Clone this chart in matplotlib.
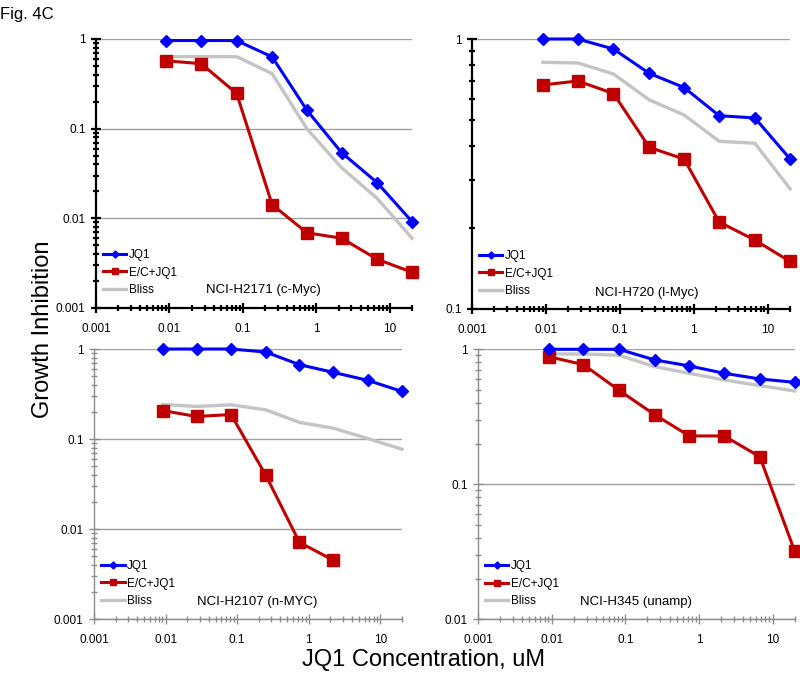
#!/usr/bin/python
# -*- coding: utf-8 -*-

import numpy as np
import matplotlib
matplotlib.use('Agg')
import matplotlib.pyplot as plt
import matplotlib.ticker as ticker

plt.rcParams['font.family'] = ['Liberation Sans', 'DejaVu Sans']

# JQ1 concentrations (uM), 3-fold dilution series
conc = [0.0091, 0.027, 0.082, 0.25, 0.74, 2.2, 6.7, 20]

# NCI-H2171 (c-Myc)
h2171_jq1 = [0.96, 0.96, 0.96, 0.63, 0.161, 0.054, 0.025, 0.0092]
h2171_ec = [0.57, 0.53, 0.247, 0.0142, 0.0069, 0.006, 0.0035, 0.0025]
h2171_bliss = [0.635, 0.635, 0.635, 0.41, 0.1, 0.0366, 0.0167, 0.006]

# NCI-H720 (l-Myc)
h720_jq1 = [1.0, 1.0, 0.918, 0.746, 0.661, 0.52, 0.51, 0.36]
h720_ec = [0.676, 0.699, 0.628, 0.397, 0.359, 0.21, 0.18, 0.15]
h720_bliss = [0.82, 0.815, 0.742, 0.595, 0.523, 0.418, 0.411, 0.279]

# NCI-H2107 (n-MYC) - combination only measured up to 2.2 uM
h2107_jq1 = [1.0, 1.0, 1.0, 0.926, 0.67, 0.55, 0.448, 0.338]
h2107_ec = [0.207, 0.178, 0.187, 0.0397, 0.0071, 0.0045]
h2107_bliss = [0.242, 0.23, 0.24, 0.211, 0.153, 0.132, 0.101, 0.077]

# NCI-H345 (unamp)
h345_jq1 = [1.0, 1.0, 1.0, 0.834, 0.753, 0.664, 0.603, 0.569]
h345_ec = [0.882, 0.77, 0.497, 0.328, 0.228, 0.228, 0.16, 0.0318]
h345_bliss = [0.923, 0.923, 0.903, 0.744, 0.664, 0.593, 0.538, 0.491]

blue = '#0000FF'
red = '#C00000'
grey = '#C4C4C4'


def draw_panel(ax, jq1, ec, bliss, name, ylim, yticks, heavy, tx, ty):
    gb, = ax.plot(conc[:len(bliss)], bliss, color=grey, lw=2.4, zorder=2, clip_on=False)
    rb, = ax.plot(conc[:len(ec)], ec, color=red, lw=2.2, marker='s', ms=8,
                  zorder=3, clip_on=False)
    bb, = ax.plot(conc[:len(jq1)], jq1, color=blue, lw=2.2, marker='D', ms=6.5,
                  zorder=4, clip_on=False)

    ax.set_xscale('log')
    ax.set_yscale('log')
    ax.set_xlim(0.001, 20)
    ax.set_ylim(*ylim)

    ax.xaxis.set_major_locator(ticker.FixedLocator([0.001, 0.01, 0.1, 1, 10]))
    ax.xaxis.set_major_formatter(ticker.FixedFormatter(['0.001', '0.01', '0.1', '1', '10']))
    ax.xaxis.set_minor_locator(ticker.LogLocator(base=10, subs=np.arange(2, 10), numticks=20))
    ax.xaxis.set_minor_formatter(ticker.NullFormatter())
    ax.yaxis.set_major_locator(ticker.FixedLocator(yticks))
    ax.yaxis.set_major_formatter(ticker.FixedFormatter([('%g' % v) for v in yticks]))
    ax.yaxis.set_minor_locator(ticker.LogLocator(base=10, subs=np.arange(2, 10), numticks=20))
    ax.yaxis.set_minor_formatter(ticker.NullFormatter())

    for y in yticks:
        ax.axhline(y, color='#A0A0A0', lw=1.0, zorder=1)

    ax.spines['top'].set_visible(False)
    ax.spines['right'].set_visible(False)
    if heavy:
        axcol, alw = 'black', 1.6
    else:
        axcol, alw = '#8C8C8C', 1.0
    ax.spines['left'].set_color(axcol)
    ax.spines['bottom'].set_color(axcol)
    ax.spines['left'].set_linewidth(alw)
    ax.spines['bottom'].set_linewidth(alw)
    ax.tick_params(which='major', direction='inout', length=7, width=alw, color=axcol,
                   labelsize=8.5, pad=4)
    ax.tick_params(which='minor', direction='inout', length=5, width=alw, color=axcol)
    ax.tick_params(axis='x', pad=7)
    ax.patch.set_alpha(0)

    ax.legend([bb, rb, gb], ['JQ1', 'E/C+JQ1', 'Bliss'], loc='lower left',
              bbox_to_anchor=(-0.014, 0.0), frameon=False, fontsize=8.5,
              handlelength=1.95, handletextpad=0.2, labelspacing=0.48,
              borderaxespad=0.6, markerscale=0.55)
    ax.text(tx, ty, name, transform=ax.transAxes, ha='center', va='center', fontsize=9.5)


fig = plt.figure(figsize=(8.0, 6.76), dpi=100)

ax_tl = fig.add_axes([0.120, 0.5444, 0.395, 0.398])
ax_tr = fig.add_axes([0.590, 0.5429, 0.3975, 0.3994])
ax_bl = fig.add_axes([0.1175, 0.0843, 0.385, 0.3994])
ax_br = fig.add_axes([0.5975, 0.0839, 0.396, 0.3994])

draw_panel(ax_tl, h2171_jq1, h2171_ec, h2171_bliss, 'NCI-H2171 (c-Myc)',
           (0.001, 1), [0.001, 0.01, 0.1, 1], True, 0.53, 0.067)
draw_panel(ax_tr, h720_jq1, h720_ec, h720_bliss, 'NCI-H720 (l-Myc)',
           (0.1, 1), [0.1, 1], True, 0.55, 0.06)
draw_panel(ax_bl, h2107_jq1, h2107_ec, h2107_bliss, 'NCI-H2107 (n-MYC)',
           (0.001, 1), [0.001, 0.01, 0.1, 1], False, 0.53, 0.063)
draw_panel(ax_br, h345_jq1, h345_ec, h345_bliss, 'NCI-H345 (unamp)',
           (0.01, 1), [0.01, 0.1, 1], False, 0.50, 0.063)

fig.text(0.0, 0.99, 'Fig. 4C', fontsize=12, ha='left', va='top')
fig.text(0.054, 0.513, 'Growth Inhibition', fontsize=17, rotation=90, ha='center', va='center')
fig.text(0.529, 0.024, 'JQ1 Concentration, uM', fontsize=17, ha='center', va='center')

fig.savefig('out.png', dpi=100)
